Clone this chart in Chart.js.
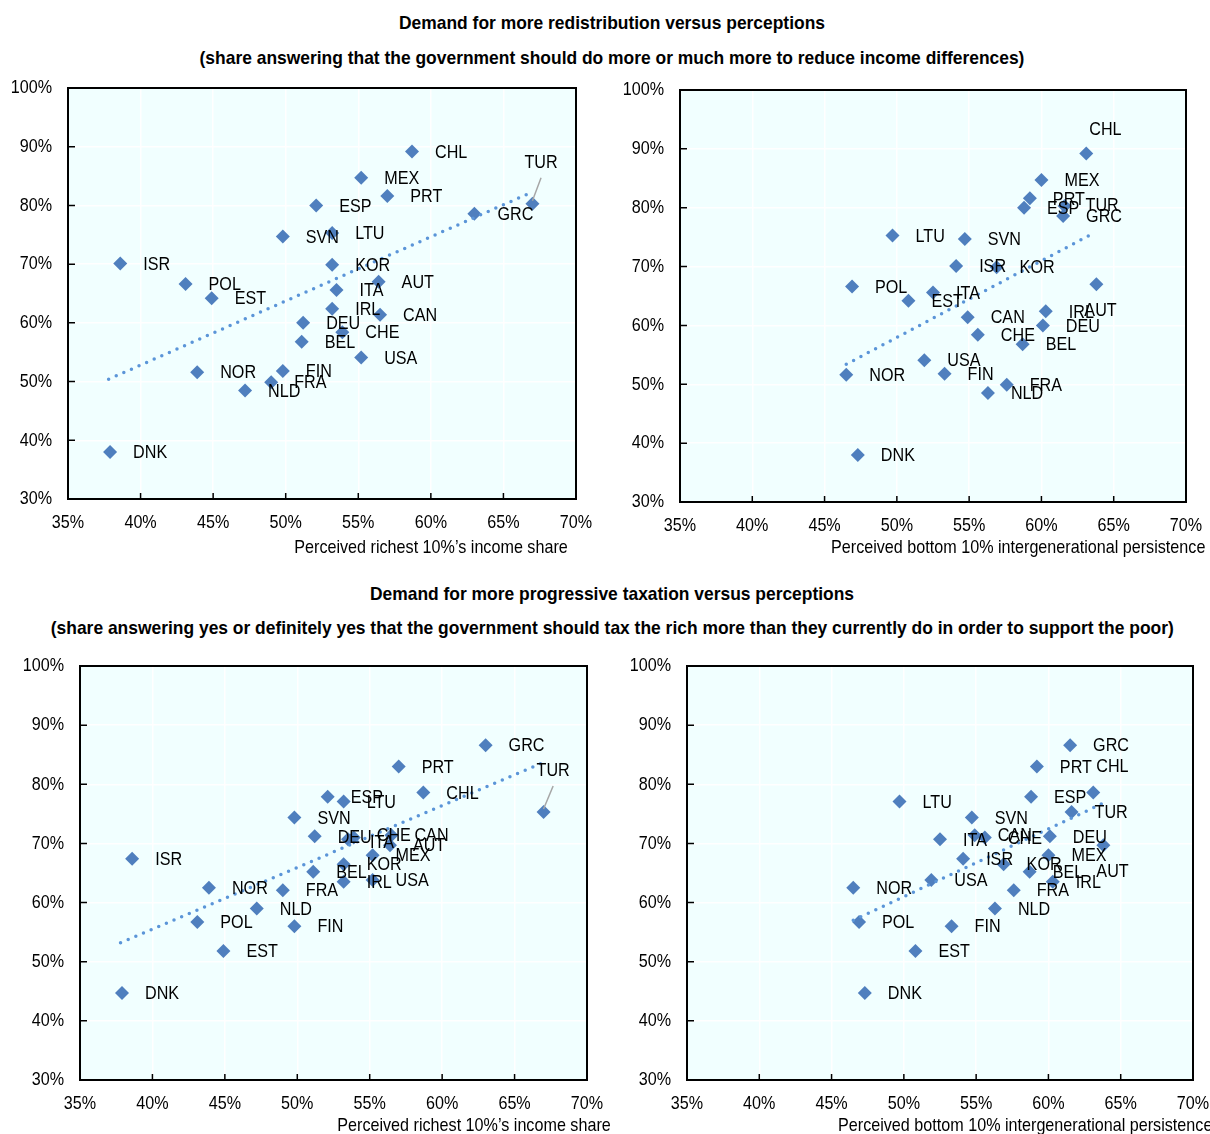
<!DOCTYPE html>
<html>
<head>
<meta charset="utf-8">
<script src="https://cdn.jsdelivr.net/npm/chart.js@4.4.1/dist/chart.umd.min.js"></script>
<style>
    body { margin: 0; width: 1210px; height: 1134px; overflow: hidden; background: #fff; position: relative;
           font-family: "Liberation Sans", Arial, sans-serif; color: #000; }
    .title { position: absolute; left: 0; width: 1224px; text-align: center; font-weight: bold; font-size: 19px;
             line-height: 22px; white-space: nowrap; transform: scaleX(0.917); transform-origin: 612px 0; }
    .axis-title { position: absolute; font-size: 19px; line-height: 22px; white-space: nowrap; transform: scaleX(0.85); }
    canvas { position: absolute; }
</style>
</head>
<body>
<div class="title" style="top:12px">Demand for more redistribution versus perceptions</div>
<div class="title" style="top:47px">(share answering that the government should do more or much more to reduce income differences)</div>
<div class="title" style="top:583px">Demand for more progressive taxation versus perceptions</div>
<div class="title" style="top:617px">(share answering yes or definitely yes that the government should tax the rich more than they currently do in order to support the poor)</div>

<canvas id="chart1" width="600" height="470" style="left:0;top:70px"></canvas>
<canvas id="chart2" width="600" height="470" style="left:610px;top:70px"></canvas>
<canvas id="chart3" width="610" height="489" style="left:0;top:645px"></canvas>
<canvas id="chart4" width="600" height="489" style="left:610px;top:645px"></canvas>

<div class="axis-title" style="right:642px;top:536px;transform-origin:right">Perceived richest 10%’s income share</div>
<div class="axis-title" style="left:831px;top:536px;transform-origin:left">Perceived bottom 10% intergenerational persistence</div>
<div class="axis-title" style="right:599px;top:1114px;transform-origin:right">Perceived richest 10%’s income share</div>
<div class="axis-title" style="left:838px;top:1114px;transform-origin:left">Perceived bottom 10% intergenerational persistence</div>

<script>
// countries, in the same order in every array
var countries = ['CHL', 'MEX', 'PRT', 'ESP', 'GRC', 'TUR', 'SVN', 'LTU', 'KOR', 'ISR', 'AUT', 'ITA', 'POL',
                 'EST', 'IRL', 'CAN', 'DEU', 'CHE', 'BEL', 'USA', 'NOR', 'FIN', 'FRA', 'NLD', 'DNK'];
// perceived richest 10%'s income share (%)
var richShare = [58.7, 55.2, 57.0, 52.1, 63.0, 67.0, 49.8, 53.2, 53.2, 38.6, 56.4, 53.5, 43.1,
                 44.9, 53.2, 56.5, 51.2, 53.9, 51.1, 55.2, 43.9, 49.8, 49.0, 47.2, 37.9];
// perceived bottom 10% intergenerational persistence (%)
var persistence = [63.1, 60.0, 59.2, 58.8, 61.5, 61.6, 54.7, 49.7, 56.9, 54.1, 63.8, 52.5, 46.9,
                   50.8, 60.3, 54.9, 60.1, 55.6, 58.7, 51.9, 46.5, 53.3, 57.6, 56.3, 47.3];
// demand for more redistribution (%)
var redistribution = [89.2, 84.7, 81.6, 80.0, 78.6, 80.3, 74.7, 75.3, 69.9, 70.1, 67.0, 65.6, 66.6,
                      64.2, 62.4, 61.4, 60.0, 58.4, 56.8, 54.1, 51.6, 51.8, 49.9, 48.5, 38.0];
// demand for more progressive taxation (%)
var taxation = [78.6, 68.0, 83.0, 77.9, 86.6, 75.3, 74.4, 77.1, 66.5, 67.4, 69.7, 70.7, 56.7,
                51.8, 63.5, 71.4, 71.2, 71.0, 65.2, 63.8, 62.5, 56.0, 62.1, 59.0, 44.7];

// trend line end points
var trendRichX = [37.8, 67.0];
var trendPersistX = [46.5, 63.7];
var trendRichRedistY = [50.4, 82.3];
var trendPersistRedistY = [53.4, 75.8];
var trendRichTaxY = [53.2, 83.7];
var trendPersistTaxY = [57.0, 76.7];

// axis ticks
var xTicks = [35, 40, 45, 50, 55, 60, 65, 70];
var yTicks = [30, 40, 50, 60, 70, 80, 90, 100];

var fontFamily = '"Liberation Sans", Arial, sans-serif';
var textScale = 0.85; // the original uses a condensed face
var pointColor = '#4f7fbe';
var trendColor = '#5b95d8';

function drawText(ctx, text, x, y, align) {
    ctx.save();
    ctx.translate(x, y);
    ctx.scale(textScale, 1);
    ctx.textAlign = align;
    ctx.fillText(text, 0, 0);
    ctx.restore();
}

// light cyan plot background, black frame, inward tick marks and tick labels
var framePlugin = {
    id: 'frame',
    beforeDraw: function (chart) {
        var a = chart.chartArea, ctx = chart.ctx;
        ctx.save();
        ctx.fillStyle = '#f1ffff';
        ctx.fillRect(a.left, a.top, a.right - a.left, a.bottom - a.top);
        ctx.restore();
    },
    afterDraw: function (chart) {
        var a = chart.chartArea, ctx = chart.ctx;
        var xs = chart.scales.x, ys = chart.scales.y;
        ctx.save();
        ctx.strokeStyle = '#000';
        ctx.lineWidth = 2;
        ctx.strokeRect(a.left, a.top, a.right - a.left, a.bottom - a.top);
        ctx.lineWidth = 1.5;
        ctx.beginPath();
        xTicks.forEach(function (v) {
            var px = xs.getPixelForValue(v);
            ctx.moveTo(px, a.bottom);
            ctx.lineTo(px, a.bottom - 6);
        });
        yTicks.forEach(function (v) {
            var py = ys.getPixelForValue(v);
            ctx.moveTo(a.left, py);
            ctx.lineTo(a.left + 7, py);
        });
        ctx.stroke();

        ctx.font = '19px ' + fontFamily;
        ctx.fillStyle = '#000';
        ctx.textBaseline = 'middle';
        xTicks.forEach(function (v) {
            drawText(ctx, v + '%', xs.getPixelForValue(v), a.bottom + 24, 'center');
        });
        yTicks.forEach(function (v) {
            drawText(ctx, v + '%', a.left - 16, ys.getPixelForValue(v), 'right');
        });
        ctx.restore();
    }
};

// country code next to each diamond
var labelPlugin = {
    id: 'countryLabels',
    afterDatasetsDraw: function (chart, args, opts) {
        var meta = chart.getDatasetMeta(1);
        var ctx = chart.ctx;
        ctx.save();
        ctx.font = '19px ' + fontFamily;
        ctx.fillStyle = '#000';
        ctx.textBaseline = 'middle';
        meta.data.forEach(function (pt, i) {
            var c = countries[i];
            var off = opts.offsets[c] || [23, 1];
            var lx = pt.x + off[0], ly = pt.y + off[1];
            drawText(ctx, c, lx, ly, 'left');
            if (opts.leader === c) {
                var w = ctx.measureText(c).width * textScale;
                ctx.strokeStyle = '#a6a6a6';
                ctx.lineWidth = 1.5;
                ctx.beginPath();
                ctx.moveTo(lx + w / 2, ly + 15);
                ctx.lineTo(pt.x, pt.y - 3);
                ctx.stroke();
            }
        });
        ctx.restore();
    }
};

function makeChart(id, xs, ys, trendX, trendY, box, offsets, leader) {
    var points = countries.map(function (c, i) { return { x: xs[i], y: ys[i] }; });
    var trend = trendX.map(function (x, i) { return { x: x, y: trendY[i] }; });
    return new Chart(document.getElementById(id).getContext('2d'), {
        type: 'scatter',
        data: {
            datasets: [
                {
                    data: trend,
                    showLine: true,
                    borderColor: trendColor,
                    borderWidth: 3.5,
                    borderDash: [0, 8.3],
                    borderCapStyle: 'round',
                    pointRadius: 0,
                    fill: false
                },
                {
                    data: points,
                    pointStyle: 'rectRot',
                    pointRadius: 7,
                    pointBackgroundColor: pointColor,
                    pointBorderColor: pointColor,
                    pointBorderWidth: 0
                }
            ]
        },
        options: {
            responsive: false,
            animation: false,
            events: [],
            layout: { padding: { top: box.top, right: box.right, left: 0, bottom: 0 } },
            plugins: {
                legend: { display: false },
                tooltip: { enabled: false },
                countryLabels: { offsets: offsets, leader: leader }
            },
            scales: {
                x: {
                    type: 'linear',
                    min: 35,
                    max: 70,
                    afterBuildTicks: function (s) { s.ticks = xTicks.map(function (v) { return { value: v }; }); },
                    ticks: { display: false },
                    grid: { color: '#ffffff', lineWidth: 1.5, drawTicks: false },
                    border: { display: false },
                    afterFit: function (s) { s.height = box.xHeight; }
                },
                y: {
                    min: 30,
                    max: 100,
                    afterBuildTicks: function (s) { s.ticks = yTicks.map(function (v) { return { value: v }; }); },
                    ticks: { display: false },
                    grid: { color: '#ffffff', lineWidth: 1.5, drawTicks: false },
                    border: { display: false },
                    afterFit: function (s) { s.width = box.yWidth; }
                }
            }
        },
        plugins: [framePlugin, labelPlugin]
    });
}

document.addEventListener('DOMContentLoaded', function () {
    makeChart('chart1', richShare, redistribution, trendRichX, trendRichRedistY,
        { top: 18, right: 24, xHeight: 41, yWidth: 68 },
        { TUR: [-8, -41] }, 'TUR');
    makeChart('chart2', persistence, redistribution, trendPersistX, trendPersistRedistY,
        { top: 20, right: 24, xHeight: 38, yWidth: 70 },
        { CHL: [3, -24], AUT: [-12, 27], TUR: [21, 0] }, null);
    makeChart('chart3', richShare, taxation, trendRichX, trendRichTaxY,
        { top: 21, right: 23, xHeight: 54, yWidth: 80 },
        { TUR: [-7, -41], CHE: [23, -2], ITA: [22, 3] }, 'TUR');
    makeChart('chart4', persistence, taxation, trendPersistX, trendPersistTaxY,
        { top: 21, right: 17, xHeight: 54, yWidth: 77 },
        { CHL: [3, -26], AUT: [-7, 27] }, null);
});
</script>
</body>
</html>
